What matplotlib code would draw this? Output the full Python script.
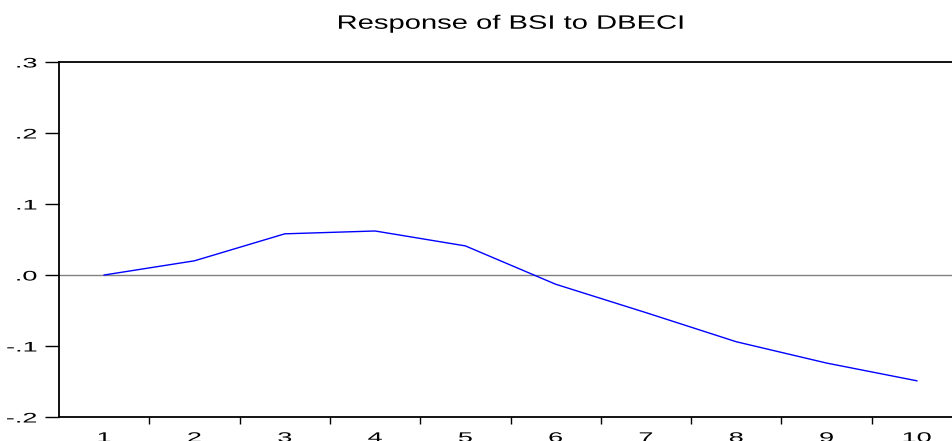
import numpy as np
import matplotlib
matplotlib.use("Agg")
from matplotlib import pyplot as plt
from matplotlib.patheffects import AbstractPathEffect
from matplotlib.transforms import Affine2D

plt.rcParams['font.family'] = ['Liberation Sans', 'DejaVu Sans']

periods = [1, 2, 3, 4, 5, 6, 7, 8, 9, 10]
response = [0.000, 0.020, 0.058, 0.062, 0.041, -0.013, -0.053, -0.094, -0.124, -0.149]
yticks = [-0.2, -0.1, 0.0, 0.1, 0.2, 0.3]
ylabels = ['-.2', '-.1', '.0', '.1', '.2', '.3']


class Stretch(AbstractPathEffect):
    # widen the text horizontally, like the stretched EViews export
    def __init__(self, sx, anchor='center'):
        super().__init__()
        self.sx = sx
        self.anchor = anchor

    def draw_path(self, renderer, gc, tpath, affine, rgbFace=None):
        ext = tpath.get_extents()
        if self.anchor == 'right':
            x0 = ext.x1
        else:
            x0 = (ext.x0 + ext.x1) / 2
        t = Affine2D().translate(-x0, 0).scale(self.sx, 1).translate(x0, 0)
        renderer.draw_path(gc, tpath, t + affine, rgbFace)


fig = plt.figure(figsize=(9.52, 4.41), dpi=100)
ax = fig.add_axes([0.062, 0.0544, 0.9485, 0.805])

ax.axhline(0, color='#808080', lw=1.0, zorder=1)
ax.plot(periods, response, color='blue', lw=1.0, zorder=2)

ax.set_xlim(0.5, 10.5)
ax.set_ylim(-0.2, 0.3)

# boundary ticks without labels, labels centred on periods
ax.set_xticks(np.arange(1.5, 10.5, 1.0))
ax.set_xticklabels([])
ax.set_xticks(periods, minor=True)
ax.set_xticklabels([str(p) for p in periods], minor=True)
ax.tick_params(axis='x', which='major', direction='out', length=5, width=1)
ax.tick_params(axis='x', which='minor', length=0, pad=10, labelsize=10)

ax.set_yticks(yticks)
ax.set_yticklabels(ylabels)
ax.tick_params(axis='y', direction='out', length=10, width=1, pad=6, labelsize=10)

for lab in ax.get_xticklabels(minor=True):
    lab.set_path_effects([Stretch(1.95)])
for lab in ax.get_yticklabels():
    lab.set_path_effects([Stretch(1.95, 'right')])

for side in ['left', 'bottom', 'top']:
    ax.spines[side].set_linewidth(1.3)
    ax.spines[side].set_color('black')
ax.spines['right'].set_visible(False)

title = fig.text(0.537, 0.945, 'Response of BSI to DBECI', ha='center', va='center', fontsize=14)
title.set_path_effects([Stretch(1.5)])

fig.savefig('out.png', dpi=100)
